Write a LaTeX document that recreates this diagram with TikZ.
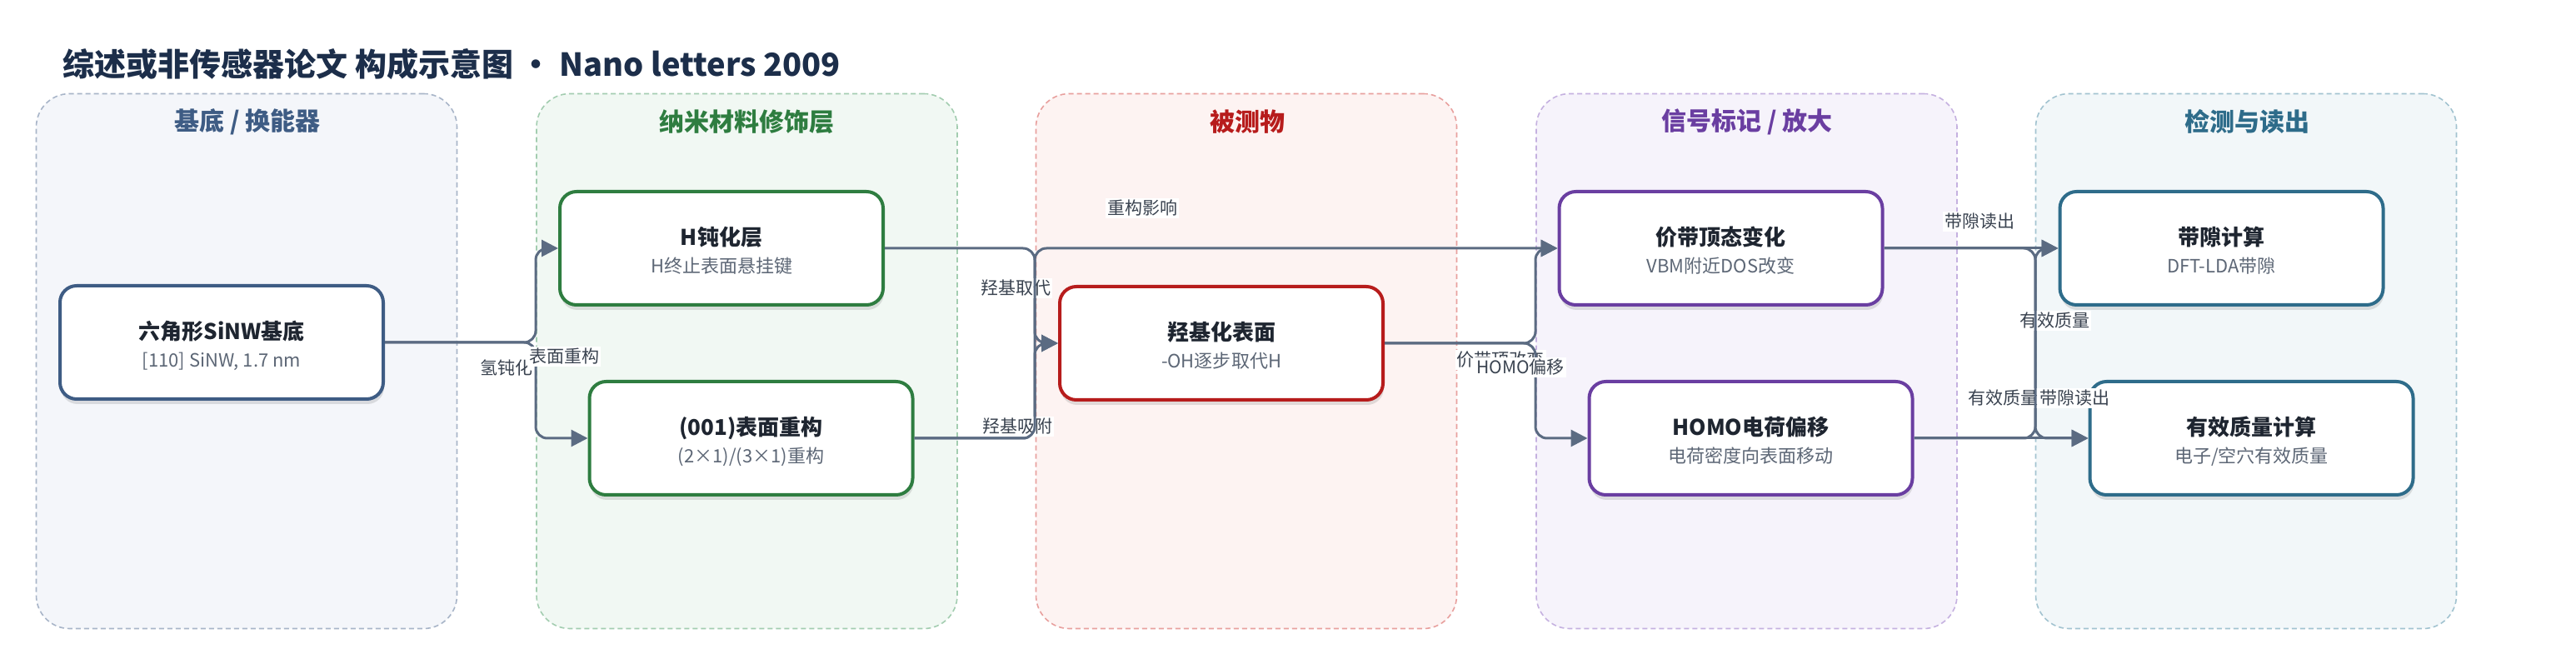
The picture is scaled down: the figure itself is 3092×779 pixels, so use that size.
\documentclass[tikz,border=0pt]{standalone}
\usepackage{fontspec}
\setmainfont{Noto Sans CJK SC}
\usetikzlibrary{arrows.meta,shadows,calc}
\definecolor{edgec}{HTML}{5B6B82}
\definecolor{labc}{HTML}{3A4350}
\definecolor{ttlc}{HTML}{1E2530}
\definecolor{subc}{HTML}{5D6776}
\definecolor{headc}{HTML}{1C2E4A}
\definecolor{aT}{HTML}{3E5C84}\definecolor{aL}{HTML}{A8B5C8}\definecolor{aF}{HTML}{F4F6FA}
\definecolor{bT}{HTML}{2E7D40}\definecolor{bL}{HTML}{A3CDB0}\definecolor{bF}{HTML}{F1F8F3}
\definecolor{cT}{HTML}{B71C1C}\definecolor{cL}{HTML}{E8A09E}\definecolor{cF}{HTML}{FDF3F2}
\definecolor{dT}{HTML}{6A3EA1}\definecolor{dL}{HTML}{C5B1E0}\definecolor{dF}{HTML}{F6F3FB}
\definecolor{eT}{HTML}{2E6C8A}\definecolor{eL}{HTML}{A2C3D0}\definecolor{eF}{HTML}{F2F7F9}
\tikzset{
  lanebox/.style={rectangle, rounded corners=20pt, dash pattern=on 3pt off 2pt, line width=0.8pt,
    minimum width=252.5pt, minimum height=321pt, inner sep=0pt},
  lanetitle/.style={font=\fontsize{15}{18}\selectfont\bfseries, inner sep=0pt},
  nbox/.style={rectangle, rounded corners=10pt, fill=white, line width=2pt,
    minimum width=194pt, minimum height=68pt, inner sep=0pt,
    drop shadow={shadow xshift=0.5pt, shadow yshift=-3pt, opacity=0.16, fill=black!70}},
  ttl/.style={font=\fontsize{13}{15}\selectfont\bfseries, text=ttlc, inner sep=0pt, anchor=base},
  subtx/.style={font=\fontsize{11}{13}\selectfont, text=subc, inner sep=0pt, anchor=base},
  edge/.style={draw=edgec, line width=1.5pt, rounded corners=7pt, -{Triangle[length=10pt,width=10pt]}},
  elabel/.style={font=\fontsize{10.5}{12}\selectfont, text=labc, fill=white, inner sep=1pt},
}
\begin{document}
\begin{tikzpicture}[x=0.5pt,y=-0.5pt]
\useasboundingbox (0,0) rectangle (3092,779);
\fill[white] (0,0) rectangle (3092,779);

% heading
\node[anchor=west, inner sep=0pt, font=\fontsize{19}{22}\selectfont\bfseries, text=headc] (head) at (75,77)
  {综述或非传感器论文 构成示意图 · Nano letters 2009};

% lanes
\node[lanebox, draw=aL, fill=aF] (lane1) at (296,433.5) {};
\node[lanebox, draw=bL, fill=bF] (lane2) at (896.5,433.5) {};
\node[lanebox, draw=cL, fill=cF] (lane3) at (1496,433.5) {};
\node[lanebox, draw=dL, fill=dF] (lane4) at (2096.5,433.5) {};
\node[lanebox, draw=eL, fill=eF] (lane5) at (2696,433.5) {};
\node[lanetitle, text=aT] (lane1t) at (297,146) {基底 / 换能器};
\node[lanetitle, text=bT] (lane2t) at (896,146) {纳米材料修饰层};
\node[lanetitle, text=cT] (lane3t) at (1497,146) {被测物};
\node[lanetitle, text=dT] (lane4t) at (2097,146) {信号标记 / 放大};
\node[lanetitle, text=eT] (lane5t) at (2697,146) {检测与读出};

% boxes
\node[nbox, draw=aT] (sinw) at (266,411) {};
\node[nbox, draw=bT] (hp) at (866,298) {};
\node[nbox, draw=bT] (rc) at (901.5,526) {};
\node[nbox, draw=cT] (hyd) at (1466,412) {};
\node[nbox, draw=dT] (vbm) at (2065.5,298) {};
\node[nbox, draw=dT] (homo) at (2101.5,526) {};
\node[nbox, draw=eT] (bg) at (2666.5,298) {};
\node[nbox, draw=eT] (em) at (2702.5,526) {};

\foreach \n/\t/\s in {sinw/六角形SiNW基底/{[110] SiNW, 1.7 nm},
  hp/H钝化层/H终止表面悬挂键,
  rc/(001)表面重构/{(2×1)/(3×1)重构},
  hyd/羟基化表面/-OH逐步取代H,
  vbm/价带顶态变化/VBM附近DOS改变,
  homo/HOMO电荷偏移/电荷密度向表面移动,
  bg/带隙计算/DFT-LDA带隙,
  em/有效质量计算/{电子/空穴有效质量}}{
  \node[ttl] (\n-t) at ($(\n.center)+(0,-3)$) {\t};
  \node[subtx] (\n-s) at ($(\n.center)+(0,29.5)$) {\s};
}

% column coordinates for bends
\coordinate (colA) at (643,0);
\coordinate (colB) at (1242,0);
\coordinate (colC) at (1843,0);
\coordinate (colD) at (2443,0);

% edges
\draw[edge] (sinw.east) -| (colA |- hp.west) -- (hp.west);
\node[elabel] (l1) at (608,441) {氢钝化};
\draw[edge] (sinw.east) -| (colA |- rc.west) -- (rc.west);
\node[elabel] (l2) at (677,428) {表面重构};
\draw[edge] (hp.east) -| (colB |- hyd.west) -- (hyd.west);
\node[elabel] (l3) at (1219,346) {羟基取代};
\draw[edge] (rc.east) -| (colB |- hyd.west) -- (hyd.west);
\node[elabel] (l4) at (1221,512) {羟基吸附};
\draw[edge] (rc.east) -| (colB |- vbm.west) -- (vbm.west);
\node[elabel] (l5) at (1371,250) {重构影响};
\draw[edge] (hyd.east) -| (colC |- vbm.west) -- (vbm.west);
\node[elabel] (l6) at (1801,432) {价带顶改变};
\draw[edge] (hyd.east) -| (colC |- homo.west) -- (homo.west);
\node[elabel] (l7) at (1825,441) {HOMO偏移};
\draw[edge] (vbm.east) -- (bg.west);
\node[elabel] (l8) at (2376,266) {带隙读出};
\draw[edge] (vbm.east) -| (colD |- em.west) -- (em.west);
\node[elabel] (l9) at (2466,385) {有效质量};
\draw[edge] (homo.east) -- (em.west);
\node[elabel] (l10) at (2404,478) {有效质量};
\draw[edge] (homo.east) -| (colD |- bg.west) -- (bg.west);
\node[elabel] (l11) at (2490,478) {带隙读出};
\end{tikzpicture}
\end{document}
